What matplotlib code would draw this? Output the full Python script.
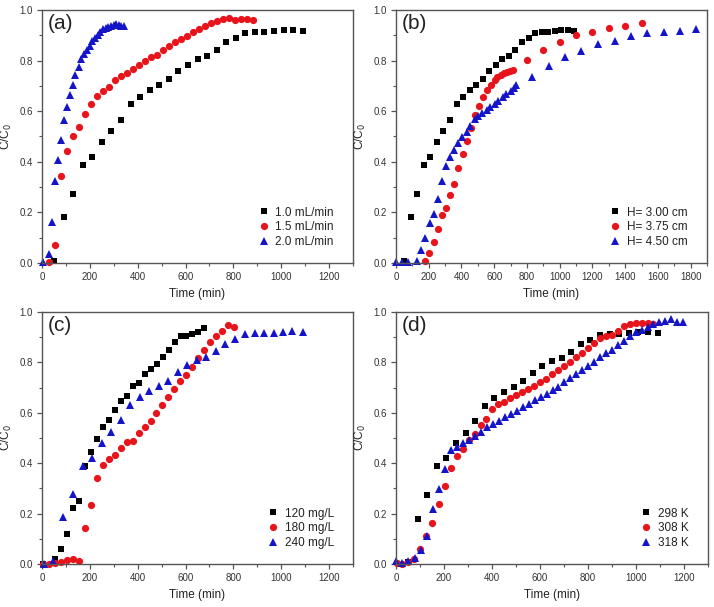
import matplotlib
matplotlib.use("Agg")
import matplotlib.pyplot as plt
from matplotlib.ticker import MultipleLocator, FormatStrFormatter

plt.rcParams['font.family'] = ['Liberation Sans', 'DejaVu Sans']

# ---- shared reference run (1.0 mL/min = H 3.00 cm = 298 K) ----
t_ref = [50, 90, 130, 170, 210, 250, 290, 330, 370, 410, 450, 490, 530, 570, 610,
         650, 690, 730, 770, 810, 850, 890, 930, 970, 1010, 1050, 1090]
y_ref = [0.008, 0.18, 0.274, 0.387, 0.42, 0.479, 0.52, 0.567, 0.627, 0.657, 0.682,
         0.702, 0.728, 0.759, 0.784, 0.806, 0.819, 0.842, 0.872, 0.889, 0.909, 0.912,
         0.914, 0.916, 0.92, 0.922, 0.918]

# ---- (a) flow rate ----
a_t15 = [30, 55, 80, 105, 130, 155, 180, 205, 230, 255, 280, 305, 330, 355, 380, 405,
         430, 455, 480, 505, 530, 555, 580, 605, 630, 655, 680, 705, 730, 755, 780,
         805, 830, 855, 880]
a_y15 = [0.004, 0.073, 0.343, 0.442, 0.501, 0.537, 0.587, 0.627, 0.661, 0.678, 0.694,
         0.723, 0.739, 0.751, 0.765, 0.781, 0.797, 0.813, 0.824, 0.842, 0.856, 0.873,
         0.885, 0.897, 0.912, 0.925, 0.935, 0.947, 0.955, 0.963, 0.967, 0.961, 0.963,
         0.963, 0.959]
a_t20 = [5, 28, 40, 53, 66, 78, 91, 103, 115, 128, 140, 153, 165, 176, 188, 199, 210,
         221, 232, 244, 255, 266, 277, 288, 299, 310, 321, 332, 343]
a_y20 = [0.004, 0.034, 0.162, 0.325, 0.406, 0.486, 0.567, 0.617, 0.664, 0.703, 0.743,
         0.776, 0.807, 0.825, 0.842, 0.859, 0.876, 0.891, 0.902, 0.913, 0.923, 0.930,
         0.934, 0.938, 0.941, 0.943, 0.939, 0.938, 0.938]
a_labels = ['1.0 mL/min', '1.5 mL/min', '2.0 mL/min']

# ---- (b) bed height ----
b_t375 = [177, 204, 230, 255, 280, 306, 331, 355, 380, 407, 431, 456, 480, 505, 530,
          555, 580, 602, 620, 639, 657, 676, 694, 713, 800, 900, 1000, 1100, 1200,
          1300, 1400, 1500]
b_y375 = [0.008, 0.041, 0.083, 0.133, 0.19, 0.217, 0.268, 0.313, 0.376, 0.432, 0.483,
          0.535, 0.585, 0.622, 0.655, 0.684, 0.705, 0.723, 0.734, 0.743, 0.75, 0.756,
          0.76, 0.763, 0.802, 0.842, 0.875, 0.901, 0.914, 0.928, 0.938, 0.947]
b_t450 = [0, 35, 75, 127, 153, 180, 206, 231, 255, 280, 304, 331, 355, 380, 404, 431,
          455, 480, 504, 528, 553, 577, 602, 626, 651, 675, 700, 718, 735, 831, 933,
          1031, 1133, 1233, 1335, 1433, 1535, 1637, 1735, 1835]
b_y450 = [0.005, 0.005, 0.005, 0.008, 0.051, 0.1, 0.16, 0.192, 0.254, 0.325, 0.383,
          0.42, 0.447, 0.476, 0.497, 0.518, 0.541, 0.568, 0.581, 0.594, 0.606, 0.618,
          0.628, 0.642, 0.655, 0.668, 0.68, 0.69, 0.703, 0.734, 0.779, 0.813, 0.839,
          0.866, 0.879, 0.898, 0.910, 0.914, 0.917, 0.925]
b_labels = ['H= 3.00 cm', 'H= 3.75 cm', 'H= 4.50 cm']

# ---- (c) initial concentration ----
c_t120 = [6, 54, 79, 104, 129, 154, 179, 204, 229, 254, 279, 304, 329, 354, 379, 404,
          429, 454, 479, 504, 529, 554, 579, 604, 629, 654, 679]
c_y120 = [0.0, 0.019, 0.061, 0.119, 0.221, 0.251, 0.387, 0.446, 0.497, 0.542, 0.573,
          0.613, 0.645, 0.668, 0.706, 0.72, 0.752, 0.775, 0.795, 0.821, 0.85, 0.879,
          0.905, 0.903, 0.913, 0.919, 0.935]
c_t180 = [5, 30, 55, 78, 105, 130, 155, 179, 204, 229, 254, 279, 304, 329, 354, 379,
          404, 429, 454, 478, 503, 528, 553, 578, 603, 628, 653, 678, 703, 728, 753,
          778, 803]
c_y180 = [0.0, 0.0, 0.003, 0.009, 0.016, 0.019, 0.013, 0.142, 0.234, 0.341, 0.391,
          0.416, 0.432, 0.459, 0.484, 0.49, 0.519, 0.545, 0.568, 0.599, 0.630, 0.664,
          0.693, 0.727, 0.751, 0.783, 0.816, 0.849, 0.882, 0.903, 0.923, 0.947, 0.942]
c_t240 = [8, 47, 89, 129, 171, 210, 250, 289, 329, 368, 408, 447, 489, 528, 567, 607,
          649, 686, 728, 767, 808, 849, 889, 929, 969, 1008, 1047, 1089]
c_y240 = [0.0, 0.01, 0.185, 0.278, 0.388, 0.42, 0.48, 0.522, 0.570, 0.632, 0.661,
          0.686, 0.705, 0.728, 0.76, 0.788, 0.809, 0.82, 0.844, 0.872, 0.891, 0.914,
          0.915, 0.918, 0.918, 0.922, 0.925, 0.921]
c_labels = ['120 mg/L', '180 mg/L', '240 mg/L']

# ---- (d) temperature ----
d_t308 = [5, 27, 52, 77, 101, 127, 152, 178, 203, 228, 253, 278, 303, 328, 353, 377,
          402, 427, 452, 477, 502, 527, 552, 577, 601, 626, 651, 676, 701, 726, 751,
          776, 801, 825, 850, 875, 900, 925, 950, 975, 1000, 1025, 1050, 1072]
d_y308 = [0.005, 0.0, 0.008, 0.02, 0.061, 0.11, 0.161, 0.237, 0.311, 0.38, 0.427,
          0.458, 0.491, 0.515, 0.551, 0.574, 0.614, 0.633, 0.644, 0.657, 0.669, 0.682,
          0.695, 0.708, 0.724, 0.734, 0.753, 0.770, 0.786, 0.803, 0.821, 0.836, 0.856,
          0.876, 0.896, 0.905, 0.909, 0.926, 0.946, 0.952, 0.955, 0.955, 0.955, 0.951]
d_t318 = [0, 27, 52, 78, 104, 129, 155, 180, 205, 229, 254, 279, 304, 329, 354, 379,
          404, 429, 453, 478, 503, 528, 553, 578, 603, 628, 653, 677, 702, 727, 752,
          777, 802, 827, 852, 877, 902, 927, 951, 976, 1000, 1024, 1048, 1071, 1096,
          1121, 1145, 1170, 1194]
d_y318 = [0.01, 0.005, 0.01, 0.022, 0.055, 0.113, 0.219, 0.297, 0.377, 0.451, 0.464,
          0.479, 0.493, 0.509, 0.525, 0.542, 0.556, 0.569, 0.583, 0.596, 0.609, 0.623,
          0.636, 0.649, 0.662, 0.675, 0.689, 0.704, 0.722, 0.737, 0.753, 0.770, 0.786,
          0.803, 0.821, 0.838, 0.851, 0.869, 0.886, 0.905, 0.922, 0.928, 0.939, 0.952,
          0.959, 0.965, 0.971, 0.962, 0.962]
d_labels = ['298 K', '308 K', '318 K']

panels = ['(a)', '(b)', '(c)', '(d)']
xmax = [1300, 1900, 1300, 1300]

BLACK = '#000000'
RED = '#e8141b'
BLUE = '#1414c8'
AXC = '#555555'

fig = plt.figure(figsize=(7.14, 6.07), dpi=100)
W, H = 714, 607
boxes = [(42, 10, 353, 263), (396, 10, 707, 263), (42, 312, 353, 564), (396, 312, 708, 564)]

series = [
    [(t_ref, y_ref), (a_t15, a_y15), (a_t20, a_y20)],
    [(t_ref, y_ref), (b_t375, b_y375), (b_t450, b_y450)],
    [(c_t120, c_y120), (c_t180, c_y180), (c_t240, c_y240)],
    [(t_ref, y_ref), (d_t308, d_y308), (d_t318, d_y318)],
]
labels = [a_labels, b_labels, c_labels, d_labels]
styles = [dict(marker='s', color=BLACK, ms=4.6),
          dict(marker='o', color=RED, ms=5.2),
          dict(marker='^', color=BLUE, ms=5.4)]

for i, (x0, y0, x1, y1) in enumerate(boxes):
    ax = fig.add_axes([x0 / W, 1 - y1 / H, (x1 - x0) / W, (y1 - y0) / H])
    for (tt, yy), st, lab in zip(series[i], styles, labels[i]):
        ax.plot(tt, yy, linestyle='none', marker=st['marker'], color=st['color'],
                markersize=st['ms'], markeredgewidth=0, label=lab, clip_on=False)
    ax.set_xlim(0, xmax[i])
    ax.set_ylim(0, 1.0)
    ax.xaxis.set_major_locator(MultipleLocator(200))
    ax.xaxis.set_minor_locator(MultipleLocator(100))
    ax.yaxis.set_major_locator(MultipleLocator(0.2))
    ax.yaxis.set_minor_locator(MultipleLocator(0.1))
    ax.yaxis.set_major_formatter(FormatStrFormatter('%.1f'))
    for s in ax.spines.values():
        s.set_color(AXC)
        s.set_linewidth(1.0)
    ax.tick_params(which='both', direction='out', colors=AXC, labelcolor='#333333',
                   labelsize=7, top=False, right=False)
    ax.tick_params(which='major', length=3.5, width=0.9, pad=3)
    ax.tick_params(which='minor', length=2, width=0.8)
    ax.set_xlabel('Time (min)', fontsize=8.5, color='#222222', labelpad=4)
    ax.set_ylabel('C/C$_0$', fontsize=8.5, color='#222222', labelpad=4)
    ax.text(0.02, 0.985, panels[i], transform=ax.transAxes, ha='left', va='top',
            fontsize=15, color='#222222')
    leg = ax.legend(loc='lower right', bbox_to_anchor=(0.965, 0.025), frameon=False,
                    fontsize=8.5, handlelength=0.8, handletextpad=0.6,
                    labelspacing=0.25, borderpad=0.2)
    for txt in leg.get_texts():
        txt.set_color('#222222')

fig.savefig('out.png', dpi=100)
